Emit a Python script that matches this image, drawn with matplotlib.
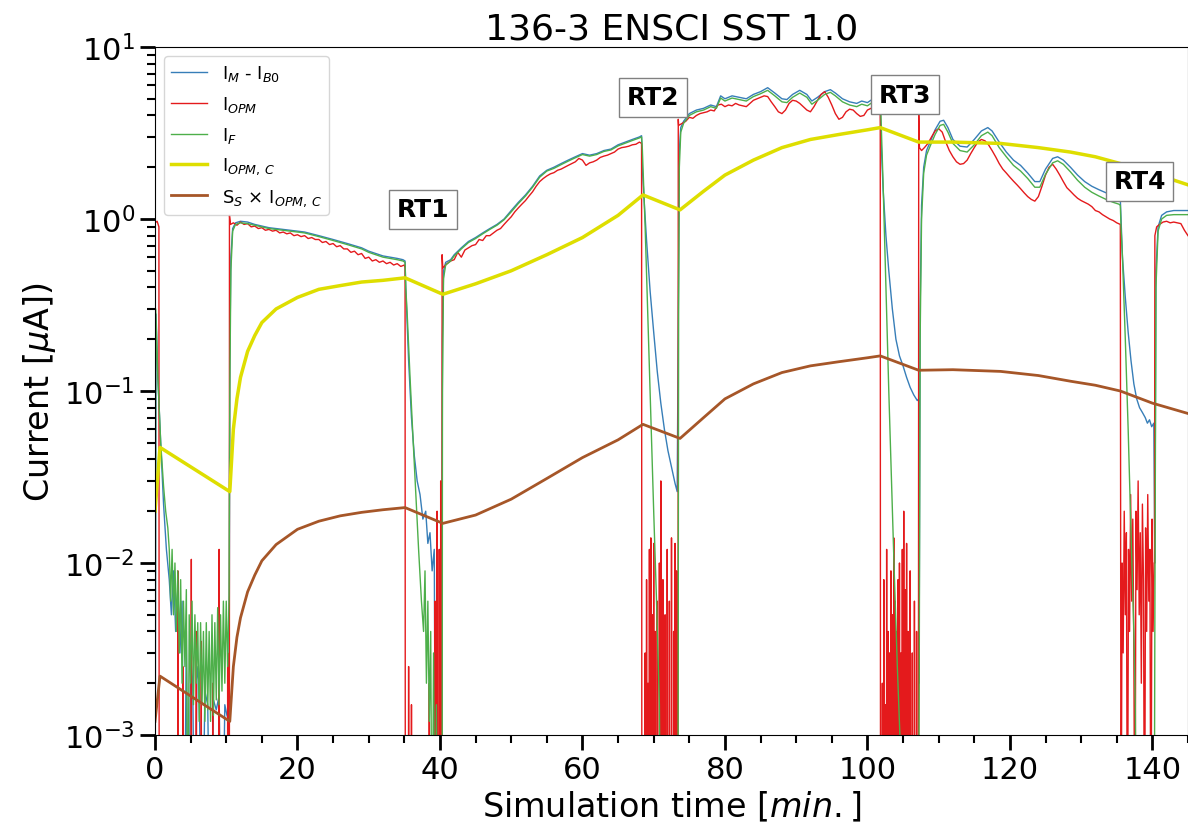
import numpy as np
import matplotlib
matplotlib.use("Agg")
import matplotlib.pyplot as plt
from matplotlib.ticker import MultipleLocator

## 数据 (时间 [min], 电流 [uA])
FLOOR = 1e-5   # 低于坐标轴的值

## I_M - I_B0
t_blue = [0.0, 0.15, 0.4, 0.8, 1.2, 1.6, 2.0, 2.3, 2.6, 2.9, 3.2, 3.5, 3.8, 4.1, 4.4, 4.7,
          5.0, 5.3, 5.6, 5.9, 6.2, 6.6, 7.0, 7.4, 7.8, 8.2, 8.6, 9.0, 9.4, 9.8, 10.1, 10.4,
          10.5, 10.65, 10.9, 11.3, 12, 13, 14, 15, 16, 17, 18, 19, 20, 21, 22, 23, 24, 25,
          26, 27, 28, 29, 30, 31, 32, 33, 34, 34.8, 35.1,
          35.2, 35.6, 36.0, 36.4, 36.8, 37.2, 37.6, 38.0, 38.3, 38.6, 38.9, 39.2, 39.4, 40.2,
          40.35, 40.5, 40.8, 41.5, 42, 43, 44, 45, 46, 47, 48, 49, 50, 51, 52, 53, 54, 55,
          56, 57, 58, 59, 60, 61, 62, 63, 64, 65, 66, 67, 68, 68.3,
          68.4, 68.7, 69.0, 69.5, 70.0, 70.5, 71.0, 71.5, 72.0, 72.5, 73.0, 73.3,
          73.5, 73.6, 73.8, 74.2, 75, 76, 77, 78, 78.8, 79.4, 80, 81, 82, 83, 84, 85, 86, 87,
          88, 88.7, 89.5, 90.5, 91.5, 92.2, 93, 94, 94.8, 95.5, 96.5, 97.5, 98.5, 99.2, 100,
          100.8, 101.5, 101.8,
          101.9, 102.2, 102.6, 103.0, 103.5, 104.0, 104.5, 105.0, 105.5, 106.0, 106.5, 107.0, 107.2,
          107.25, 107.4, 107.6, 107.9, 108.3, 108.8, 109.5, 110.2, 110.7, 111.3, 112, 113, 114,
          115, 116, 116.9, 117.5, 118.5, 119.5, 120.5, 121.5, 122.5, 123.5, 124.2, 125, 126,
          126.7, 127.5, 128.5, 129.5, 130.5, 131.5, 132.5, 133.5, 134.5, 135.3, 135.5,
          135.6, 135.8, 136.2, 136.6, 137.0, 137.4, 137.8, 138.2, 138.6, 139.0, 139.3, 139.6, 139.9, 140.2,
          140.35, 140.5, 140.8, 141.3, 142, 143, 144, 145]
i_blue = [1e-4, 0.28, 0.12, 0.05, 0.022, 0.012, 0.008, 0.005, 0.009, 0.004, 0.007, 0.003, 0.006,
          1e-4, 0.004, 1e-4, 0.003, 0.002, 1e-4, 0.0025, 0.002, 1e-4, 0.0018, 0.0015, 1e-4, 0.0016,
          0.0014, 0.0017, 1e-4, 0.0015, 0.0013, 0.0012,
          0.15, 0.6, 0.88, 0.95, 0.97, 0.96, 0.93, 0.91, 0.89, 0.88, 0.87, 0.86, 0.85, 0.84, 0.82,
          0.8, 0.78, 0.76, 0.74, 0.72, 0.7, 0.68, 0.65, 0.63, 0.61, 0.6, 0.59, 0.58, 0.57,
          0.4, 0.15, 0.07, 0.042, 0.03, 0.025, 0.018, 0.02, 0.013, 0.015, 0.009, 0.012, 1e-4, 1e-4,
          0.2, 0.5, 0.56, 0.58, 0.62, 0.68, 0.74, 0.78, 0.83, 0.88, 0.93, 1.0, 1.12, 1.25, 1.38,
          1.55, 1.78, 1.92, 2.0, 2.1, 2.2, 2.3, 2.4, 2.35, 2.4, 2.5, 2.55, 2.7, 2.8, 2.9, 3.0, 3.05,
          2.0, 1.2, 0.75, 0.38, 0.22, 0.13, 0.085, 0.06, 0.045, 0.036, 0.029, 0.026,
          0.5, 2.5, 3.4, 3.7, 4.1, 4.3, 4.4, 4.6, 4.5, 5.2, 5.0, 5.2, 5.1, 5.0, 5.3, 5.5, 5.8, 5.4,
          5.0, 4.95, 5.3, 5.6, 5.3, 4.85, 5.1, 5.5, 5.65, 5.4, 5.0, 4.8, 4.7, 4.85, 4.75, 5.0,
          5.0, 4.9,
          3.0, 1.5, 0.8, 0.5, 0.3, 0.2, 0.16, 0.14, 0.12, 0.105, 0.095, 0.088, 0.09,
          0.002, 0.3, 1.2, 2.0, 2.5, 2.8, 3.3, 3.7, 3.75, 3.4, 2.9, 2.65, 2.62, 2.9, 3.25, 3.4,
          3.25, 2.8, 2.45, 2.2, 2.05, 1.85, 1.65, 1.65, 1.95, 2.25, 2.3, 2.2, 2.0, 1.8, 1.65,
          1.55, 1.48, 1.42, 1.37, 1.33, 1.3,
          1.0, 0.6, 0.35, 0.22, 0.15, 0.11, 0.09, 0.08, 0.075, 0.07, 0.065, 0.068, 0.062, 0.065,
          0.01, 0.5, 0.9, 1.05, 1.1, 1.12, 1.12, 1.12]

## I_F
t_green = [0.0, 0.1, 0.4, 0.8, 1.2, 1.5, 1.8, 2.0, 2.2, 2.4, 2.6, 2.8, 3.0, 3.2, 3.4, 3.6,
           3.8, 4.0, 4.2, 4.4, 4.6, 4.8, 5.0, 5.2, 5.4, 5.6, 5.8, 6.0, 6.2, 6.4, 6.6, 6.8, 7.0,
           7.2, 7.4, 7.6, 7.8, 8.0, 8.2, 8.4, 8.6, 8.8, 9.0, 9.2, 9.4, 9.6, 9.8, 10.0, 10.2, 10.4,
           10.5, 10.65, 10.9, 11.3, 12, 13, 14, 15, 16, 17, 18, 19, 20, 21, 22, 23, 24, 25,
           26, 27, 28, 29, 30, 31, 32, 33, 34, 34.8, 35.1,
           35.2, 35.4, 35.8, 36.2, 36.6, 37.0, 37.4, 37.7, 37.9, 38.1, 38.3, 38.5, 38.7, 38.9,
           39.1, 39.3, 39.5, 39.7, 40.0, 40.3,
           40.35, 40.5, 40.8, 41.5, 42, 43, 44, 45, 46, 47, 48, 49, 50, 51, 52, 53, 54, 55,
           56, 57, 58, 59, 60, 61, 62, 63, 64, 65, 66, 67, 68, 68.3,
           68.4, 68.8, 69.2, 69.6, 70.0, 70.4, 70.8, 71.0, 73.4,
           73.5, 73.6, 73.8, 74.2, 75, 76, 77, 78, 78.8, 79.4, 80, 81, 82, 83, 84, 85, 86, 87,
           88, 88.7, 89.5, 90.5, 91.5, 92.2, 93, 94, 94.8, 95.5, 96.5, 97.5, 98.5, 99.2, 100,
           100.8, 101.5, 101.8,
           101.9, 102.2, 102.6, 103.0, 103.4, 103.8, 104.2, 104.6, 104.8, 107.2,
           107.25, 107.4, 107.6, 107.9, 108.3, 108.8, 109.5, 110.2, 110.7, 111.3, 112, 113, 114,
           115, 116, 116.9, 117.5, 118.5, 119.5, 120.5, 121.5, 122.5, 123.5, 124.2, 125, 126,
           126.7, 127.5, 128.5, 129.5, 130.5, 131.5, 132.5, 133.5, 134.5, 135.3, 135.5,
           135.6, 135.8, 136.2, 136.6, 137.0, 137.4, 137.6, 137.8, 140.25,
           140.35, 140.5, 140.8, 141.3, 142, 143, 144, 145]
i_green = [1e-4, 0.3, 0.12, 0.05, 0.028, 0.02, 0.016, 0.012, 0.006, 0.012, 0.005, 0.01, 0.004,
           0.009, 0.003, 0.008, 0.002, 0.006, 0.0025, 0.007, 1e-4, 0.005, 0.002, 0.006, 0.0015,
           0.005, 0.002, 0.0045, 0.0012, 0.0045, 0.0015, 0.004, 0.0012, 0.0045, 0.0014, 0.004,
           0.0012, 0.005, 0.0013, 0.0045, 0.0016, 0.0055, 0.0015, 0.005, 0.0018, 0.006, 0.002,
           0.006, 0.0025, 0.0065,
           0.1, 0.5, 0.85, 0.93, 0.95, 0.94, 0.92, 0.9, 0.88, 0.87, 0.86, 0.85, 0.84, 0.83, 0.81,
           0.79, 0.77, 0.75, 0.73, 0.71, 0.69, 0.67, 0.64, 0.62, 0.6, 0.59, 0.58, 0.57, 0.56,
           0.4, 0.28, 0.12, 0.055, 0.026, 0.012, 0.006, 0.004, 0.009, 0.002, 0.006, 0.0012, 0.004,
           1e-4, 0.003, 1e-4, 0.0015, 1e-4, 1e-4, 1e-4,
           0.1, 0.45, 0.54, 0.57, 0.61, 0.67, 0.73, 0.77, 0.82, 0.87, 0.92, 0.99, 1.1, 1.23, 1.36,
           1.53, 1.75, 1.9, 1.97, 2.07, 2.17, 2.27, 2.37, 2.32, 2.37, 2.47, 2.52, 2.66, 2.76,
           2.86, 2.96, 3.0,
           2.6, 0.9, 0.25, 0.07, 0.02, 0.006, 0.0015, 1e-4, 1e-4,
           0.3, 2.0, 3.2, 3.6, 4.0, 4.2, 4.3, 4.5, 4.4, 5.05, 4.85, 5.05, 4.95, 4.85, 5.15, 5.35,
           5.6, 5.2, 4.8, 4.75, 5.1, 5.4, 5.1, 4.65, 4.9, 5.3, 5.45, 5.2, 4.8, 4.6, 4.5, 4.65,
           4.55, 4.8, 4.8, 4.7,
           4.0, 1.6, 0.4, 0.1, 0.028, 0.008, 0.0025, 0.0009, 1e-4, 1e-4,
           0.001, 0.2, 1.0, 1.85, 2.35, 2.65, 3.1, 3.5, 3.55, 3.2, 2.75, 2.5, 2.45, 2.7, 3.05,
           3.2, 3.05, 2.6, 2.3, 2.05, 1.9, 1.72, 1.53, 1.53, 1.82, 2.12, 2.18, 2.08, 1.88, 1.68,
           1.53, 1.43, 1.36, 1.3, 1.25, 1.22, 1.2,
           0.9, 0.6, 0.2, 0.06, 0.015, 0.004, 0.0015, 1e-4, 1e-4,
           0.005, 0.4, 0.85, 1.0, 1.05, 1.06, 1.06, 1.06]

## I_OPM: 高电流段
t_red_0 = [0.0, 0.3, 0.55]
i_red_0 = [0.95, 0.97, 0.9]
t_red_1 = [10.45, 10.6, 11.0, 11.5, 12.0, 12.5, 13.0, 13.5, 14.0, 14.5, 15.0, 15.5, 16.0, 16.5,
           17.0, 17.5, 18.0, 18.5, 19.0, 19.5, 20.0, 20.5, 21.0, 21.5, 22.0, 22.5, 23.0, 23.5,
           24.0, 24.5, 25.0, 25.5, 26.0, 26.5, 27.0, 27.5, 28.0, 28.5, 29.0, 29.5, 30.0, 30.5,
           31.0, 31.5, 32.0, 32.5, 33.0, 33.5, 34.0, 34.5, 35.0, 35.1]
i_red_1 = [1.05, 0.93, 0.95, 0.92, 0.96, 0.93, 0.94, 0.9, 0.91, 0.88, 0.89, 0.86, 0.87, 0.85,
           0.86, 0.83, 0.84, 0.82, 0.83, 0.8, 0.81, 0.79, 0.8, 0.77, 0.78, 0.76, 0.76, 0.73,
           0.74, 0.71, 0.72, 0.69, 0.7, 0.67, 0.67, 0.64, 0.65, 0.62, 0.63, 0.59, 0.6, 0.57,
           0.58, 0.56, 0.57, 0.55, 0.56, 0.54, 0.55, 0.53, 0.54, 0.52]
t_red_2 = [40.3, 40.4, 41.0, 41.5, 42.0, 42.5, 43.0, 43.5, 44.0, 44.5, 45.0, 45.5, 46.0, 46.5,
           47.0, 47.5, 48.0, 48.5, 49.0, 49.5, 50.0, 50.5, 51.0, 51.5, 52.0, 52.5, 53.0, 53.5,
           54.0, 54.5, 55.0, 55.5, 56.0, 56.5, 57.0, 57.5, 58.0, 58.5, 59.0, 59.5, 60.0, 60.5,
           61.0, 61.5, 62.0, 62.5, 63.0, 63.5, 64.0, 64.5, 65.0, 65.5, 66.0, 66.5, 67.0, 67.5,
           68.0, 68.3]
i_red_2 = [0.62, 0.52, 0.55, 0.57, 0.58, 0.64, 0.6, 0.66, 0.68, 0.7, 0.71, 0.76, 0.75, 0.8,
           0.8, 0.83, 0.86, 0.88, 0.93, 0.98, 1.03, 1.1, 1.16, 1.22, 1.28, 1.36, 1.44, 1.55,
           1.65, 1.72, 1.78, 1.83, 1.86, 1.92, 1.95, 2.0, 2.05, 2.1, 2.15, 2.25, 2.2, 2.05,
           2.12, 2.15, 2.2, 2.28, 2.32, 2.35, 2.4, 2.45, 2.55, 2.6, 2.62, 2.65, 2.7, 2.72,
           2.8, 2.75]
t_red_3 = [73.45, 73.5, 74.0, 74.5, 75.0, 75.5, 76.0, 76.5, 77.0, 77.5, 78.0, 78.5, 79.0, 79.5,
           80.0, 80.5, 81.0, 81.5, 82.0, 82.5, 83.0, 83.5, 84.0, 84.5, 85.0, 85.5, 86.0, 86.5,
           87.0, 87.5, 88.0, 88.5, 89.0, 89.5, 90.0, 90.5, 91.0, 91.5, 92.0, 92.5, 93.0, 93.5,
           94.0, 94.5, 95.0, 95.5, 96.0, 96.5, 97.0, 97.5, 98.0, 98.5, 99.0, 99.5, 100.0, 100.5,
           101.0, 101.5, 101.8]
i_red_3 = [3.8, 3.5, 3.6, 3.7, 3.9, 3.85, 4.0, 4.1, 4.15, 4.2, 4.3, 4.25, 4.6, 4.65,
           4.5, 4.6, 4.55, 4.7, 4.6, 4.55, 4.5, 4.7, 4.9, 5.0, 5.1, 5.2, 5.15, 4.8,
           4.5, 4.2, 4.1, 4.3, 4.7, 4.9, 4.85, 4.7, 4.5, 4.3, 4.2, 4.5, 4.9, 5.3,
           5.5, 5.1, 4.6, 4.1, 3.8, 3.9, 4.2, 4.35, 4.3, 4.1, 3.95, 4.0, 4.3, 4.4,
           4.2, 4.6, 4.4]
t_red_4 = [107.2, 107.3, 107.6, 108.0, 108.5, 109.0, 109.5, 110.0, 110.5, 111.0, 111.5, 112.0,
           112.5, 113.0, 113.5, 114.0, 114.5, 115.0, 115.5, 116.0, 116.5, 117.0, 117.5, 118.0,
           118.5, 119.0, 119.5, 120.0, 120.5, 121.0, 121.5, 122.0, 122.5, 123.0, 123.5, 124.0,
           124.5, 125.0, 125.5, 126.0, 126.5, 127.0, 127.5, 128.0, 128.5, 129.0, 129.5, 130.0,
           130.5, 131.0, 131.5, 132.0, 132.5, 133.0, 133.5, 134.0, 134.5, 135.0, 135.5]
i_red_4 = [4.2, 2.6, 2.5, 2.6, 2.75, 3.0, 3.25, 3.35, 3.2, 2.8, 2.5, 2.3,
           2.15, 2.08, 2.1, 2.2, 2.4, 2.6, 2.8, 2.9, 2.85, 2.7, 2.5, 2.3,
           2.1, 1.95, 1.85, 1.75, 1.66, 1.58, 1.5, 1.42, 1.35, 1.3, 1.27, 1.35,
           1.55, 1.8, 2.0, 2.08, 1.95, 1.8, 1.65, 1.52, 1.45, 1.38, 1.32, 1.28,
           1.25, 1.22, 1.18, 1.12, 1.1, 1.06, 1.03, 1.0, 0.98, 0.95, 0.93]
t_red_rt4 = [135.6, 135.75, 135.9, 136.05, 136.2, 136.35, 136.5, 136.65, 136.8, 136.95, 137.1,
             137.25, 137.4, 137.55, 137.7, 137.85, 138.0, 138.15, 138.3, 138.45, 138.6, 138.75,
             138.9, 139.05, 139.2, 139.35, 139.5, 139.65, 139.8, 139.95, 140.1, 140.25]
i_red_rt4 = [1e-4, 0.01, 0.003, 0.02, 0.005, 0.015, 1e-4, 0.012, 0.004, 0.025, 0.006,
             0.018, 0.003, 1e-4, 0.02, 0.007, 0.03, 0.005, 0.015, 0.002, 0.022, 0.008,
             1e-4, 0.016, 0.004, 0.025, 0.006, 0.012, 1e-4, 0.018, 0.004, 0.01]
t_red_5 = [140.3, 140.35, 140.6, 141.0, 141.5, 142.0, 142.5, 143.0, 143.5, 144.0, 144.5, 145.0]
i_red_5 = [0.01, 0.8, 0.9, 0.93, 0.96, 0.97, 0.95, 0.96, 0.95, 0.94, 0.86, 0.8]

## I_OPM: 回流测试期间的噪声尖峰
spk_t_rt0 = [3.2, 3.9, 5.1, 5.8, 6.5, 8.1, 9.0, 10.2]
spk_h_rt0 = [0.009, 0.0025, 0.0105, 0.004, 0.0035, 0.002, 0.012, 0.003]
spk_t_rt1 = [35.6, 36.0, 38.5, 39.3, 39.6, 39.9, 40.1]
spk_h_rt1 = [0.0025, 0.0015, 0.002, 0.006, 0.02, 0.012, 0.03]
spk_t_rt2 = [68.8, 69.0, 69.2, 69.4, 69.6, 69.8, 70.0, 70.2, 70.5, 70.8, 71.0, 71.3, 71.6,
             71.9, 72.2, 72.5, 72.8, 73.0, 73.2]
spk_h_rt2 = [0.003, 0.008, 0.002, 0.012, 0.014, 0.005, 0.013, 0.004, 0.006, 0.01, 0.03, 0.008,
             0.005, 0.012, 0.006, 0.014, 0.004, 0.013, 0.009]
spk_t_rt3 = [102.1, 102.3, 102.5, 102.7, 102.9, 103.1, 103.3, 103.5, 103.7, 103.9, 104.1,
             104.3, 104.5, 104.7, 104.9, 105.1, 105.3, 105.5, 105.7, 106.0, 106.3, 106.6, 106.9]
spk_h_rt3 = [0.002, 0.008, 0.0015, 0.012, 0.004, 0.003, 0.009, 0.005, 0.014, 0.006, 0.004,
             0.008, 0.01, 0.003, 0.012, 0.02, 0.007, 0.013, 0.004, 0.009, 0.003, 0.006, 0.004]

## I_OPM,C 和 S_S x I_OPM,C
t_calc = [0.0, 0.7, 10.5, 11, 11.5, 12, 13, 14, 15, 17, 20, 23, 26, 29, 32, 35.1, 40.4, 45, 50,
          55, 60, 65, 68.5, 73.7, 77, 80, 84, 88, 92, 96, 100, 101.8, 107.2, 112, 118.7, 124,
          128.5, 132, 135.5, 140, 145]
i_opm_c = [0.02, 0.047, 0.026, 0.06, 0.09, 0.12, 0.17, 0.21, 0.25, 0.3, 0.35, 0.39, 0.41, 0.43,
           0.44, 0.455, 0.365, 0.42, 0.5, 0.62, 0.78, 1.05, 1.38, 1.13, 1.45, 1.8, 2.2, 2.6, 2.9,
           3.1, 3.3, 3.4, 2.8, 2.8, 2.75, 2.6, 2.45, 2.3, 2.1, 1.85, 1.58]
i_ss_c = [0.0012, 0.0022, 0.0012, 0.0025, 0.0037, 0.0048, 0.0068, 0.0085, 0.0103, 0.0128, 0.0157,
          0.0175, 0.0188, 0.0197, 0.0204, 0.021, 0.017, 0.019, 0.0235, 0.031, 0.041, 0.052,
          0.064, 0.053, 0.07, 0.09, 0.11, 0.128, 0.14, 0.148, 0.156, 0.16, 0.132, 0.133, 0.13,
          0.123, 0.114, 0.108, 0.1, 0.085, 0.074]

## 回流测试标签
rt_names = ['RT1', 'RT2', 'RT3', 'RT4']
rt_t = [37.6, 69.9, 105.3, 138.2]
rt_y = [1.14, 5.12, 5.26, 1.66]


def spikes(ts, hs, w=0.03):
    t, v = [], []
    for a, h in zip(ts, hs):
        t += [a - w, a, a + w]
        v += [FLOOR, h, FLOOR]
    return t, v


## 拼接 I_OPM
s0 = spikes(spk_t_rt0, spk_h_rt0)
s1 = spikes(spk_t_rt1, spk_h_rt1)
s2 = spikes(spk_t_rt2, spk_h_rt2)
s3 = spikes(spk_t_rt3, spk_h_rt3)
t_red = (t_red_0 + [0.6] + s0[0] + [10.44] + t_red_1 + [35.15] + s1[0] + [40.25] + t_red_2
         + [68.35] + s2[0] + [73.4] + t_red_3 + [101.85] + s3[0] + [107.15] + t_red_4
         + t_red_rt4 + t_red_5)
i_red = (i_red_0 + [FLOOR] + s0[1] + [FLOOR] + i_red_1 + [FLOOR] + s1[1] + [FLOOR] + i_red_2
         + [FLOOR] + s2[1] + [FLOOR] + i_red_3 + [FLOOR] + s3[1] + [FLOOR] + i_red_4
         + i_red_rt4 + i_red_5)

## 画图
fig = plt.figure(figsize=(11.88, 8.28), dpi=100)
ax = fig.add_axes([155 / 1188, 92 / 828, 1033 / 1188, 688 / 828])

ax.plot(t_blue, i_blue, color='#377eb8', lw=1.0, label=r'I$_M$ - I$_{B0}$')
ax.plot(t_red, i_red, color='#e41a1c', lw=1.0, label=r'I$_{OPM}$')
ax.plot(t_green, i_green, color='#4daf4a', lw=1.0, label=r'I$_F$')
ax.plot(t_calc, i_opm_c, color='#dede00', lw=2.5, label=r'I$_{OPM,\,C}$')
ax.plot(t_calc, i_ss_c, color='#a65628', lw=2.0, label=r'S$_S$ × I$_{OPM,\,C}$')

ax.set_yscale('log')
ax.set_ylim(1e-3, 1e1)
ax.set_xlim(0, 145)
ax.xaxis.set_major_locator(MultipleLocator(20))
ax.xaxis.set_minor_locator(MultipleLocator(5))
ax.tick_params(which='major', direction='out', length=11, width=2, labelsize=22)
ax.tick_params(which='minor', direction='out', length=6, width=1.5)

for name, x, y in zip(rt_names, rt_t, rt_y):
    ax.text(x, y, name, fontsize=18, fontweight='bold', ha='center', va='center',
            bbox=dict(facecolor='white', edgecolor='gray', boxstyle='square,pad=0.3'))

ax.legend(loc='upper left', fontsize=13, labelspacing=0.6)
ax.set_title('136-3 ENSCI SST 1.0', fontsize=26)
ax.set_xlabel(r'Simulation time [$min.$]', fontsize=24)
ax.set_ylabel(r'Current [$\mu$A])', fontsize=24)

fig.savefig('out.png', dpi=100)
